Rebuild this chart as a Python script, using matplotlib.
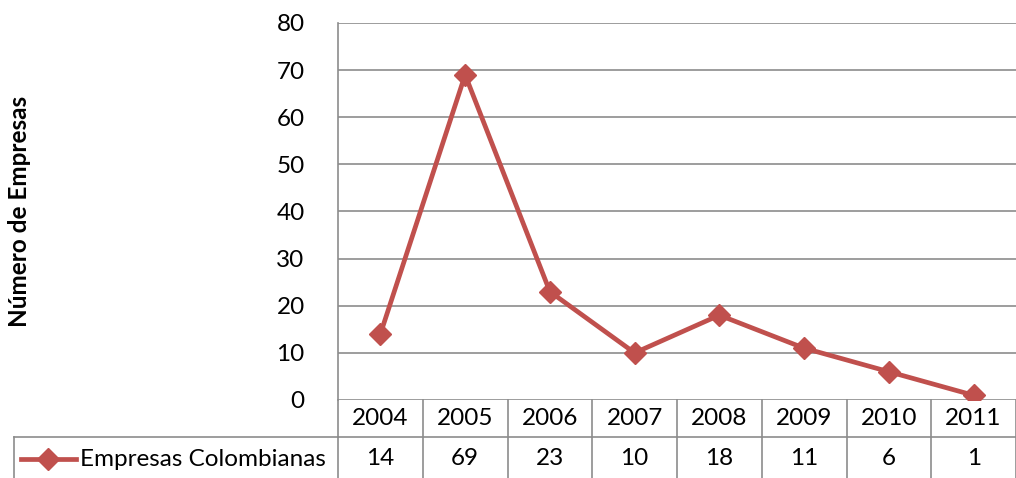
import matplotlib.pyplot as plt
import matplotlib.transforms as mtransforms
from matplotlib.lines import Line2D

plt.rcParams["font.family"] = ["Lato", "DejaVu Sans"]

years = ["2004", "2005", "2006", "2007", "2008", "2009", "2010", "2011"]
empresas = [14, 69, 23, 10, 18, 11, 6, 1]
serie = "Empresas Colombianas"
ylabel = "Número de Empresas"

red = "#C0504D"
grid = "#8C8C8C"
fs = 17.5

W, H = 1016, 478
fig = plt.figure(figsize=(W / 100, H / 100), dpi=100)

# plot area in pixels
x0, x1, ytop, ybot = 338, 1016, 23, 400
ax = fig.add_axes([x0 / W, 1 - ybot / H, (x1 - x0) / W, (ybot - ytop) / H])

n = len(years)
xs = list(range(n))
ax.plot(xs, empresas, color=red, lw=3.4, marker="D", ms=11, mec=red, mfc=red, zorder=3)
ax.set_xlim(-0.5, n - 0.5)
ax.set_ylim(0, 80)
ax.set_yticks(range(0, 81, 10))
ax.yaxis.grid(True, color=grid, lw=1.2)
ax.set_axisbelow(True)
ax.set_xticks([])
ax.tick_params(axis="y", length=0, labelsize=fs, pad=24)
for s in ["top", "right", "bottom"]:
    ax.spines[s].set_visible(False)
ax.spines["left"].set_color(grid)
ax.spines["left"].set_linewidth(1.2)

fig.text(20 / W, 1 - 211 / H, ylabel, rotation=90, ha="center", va="center",
         fontsize=17.5, fontweight="bold")

# data table below the plot
ph = ybot - ytop
r1 = -37 / ph
r2 = -80 / ph
trans = mtransforms.blended_transform_factory(ax.transData, ax.transAxes)
kw = dict(transform=trans, clip_on=False, color=grid, lw=1.2)
for i in range(n + 1):
    ax.plot([i - 0.5, i - 0.5], [0, r2], **kw)
ax.plot([-0.5, n - 0.5], [r1, r1], **kw)
for i, (yr, v) in enumerate(zip(years, empresas)):
    ax.text(i, r1 / 2, yr, transform=trans, ha="center", va="center", fontsize=fs)
    ax.text(i, (r1 + r2) / 2, str(v), transform=trans, ha="center", va="center", fontsize=fs)

# legend cell
fig.add_artist(Line2D([14 / W, x0 / W], [1 - 437 / H, 1 - 437 / H], color=grid, lw=1.2))
fig.add_artist(Line2D([14 / W, 14 / W], [1 - 437 / H, 0], color=grid, lw=1.2))
ly = 1 - 459 / H
fig.add_artist(Line2D([21 / W, 76 / W], [ly, ly], color=red, lw=3.4))
fig.add_artist(Line2D([48 / W], [ly], color=red, marker="D", ms=11))
fig.text(80 / W, ly, serie, ha="left", va="center", fontsize=fs)

fig.savefig("out.png", dpi=100)
